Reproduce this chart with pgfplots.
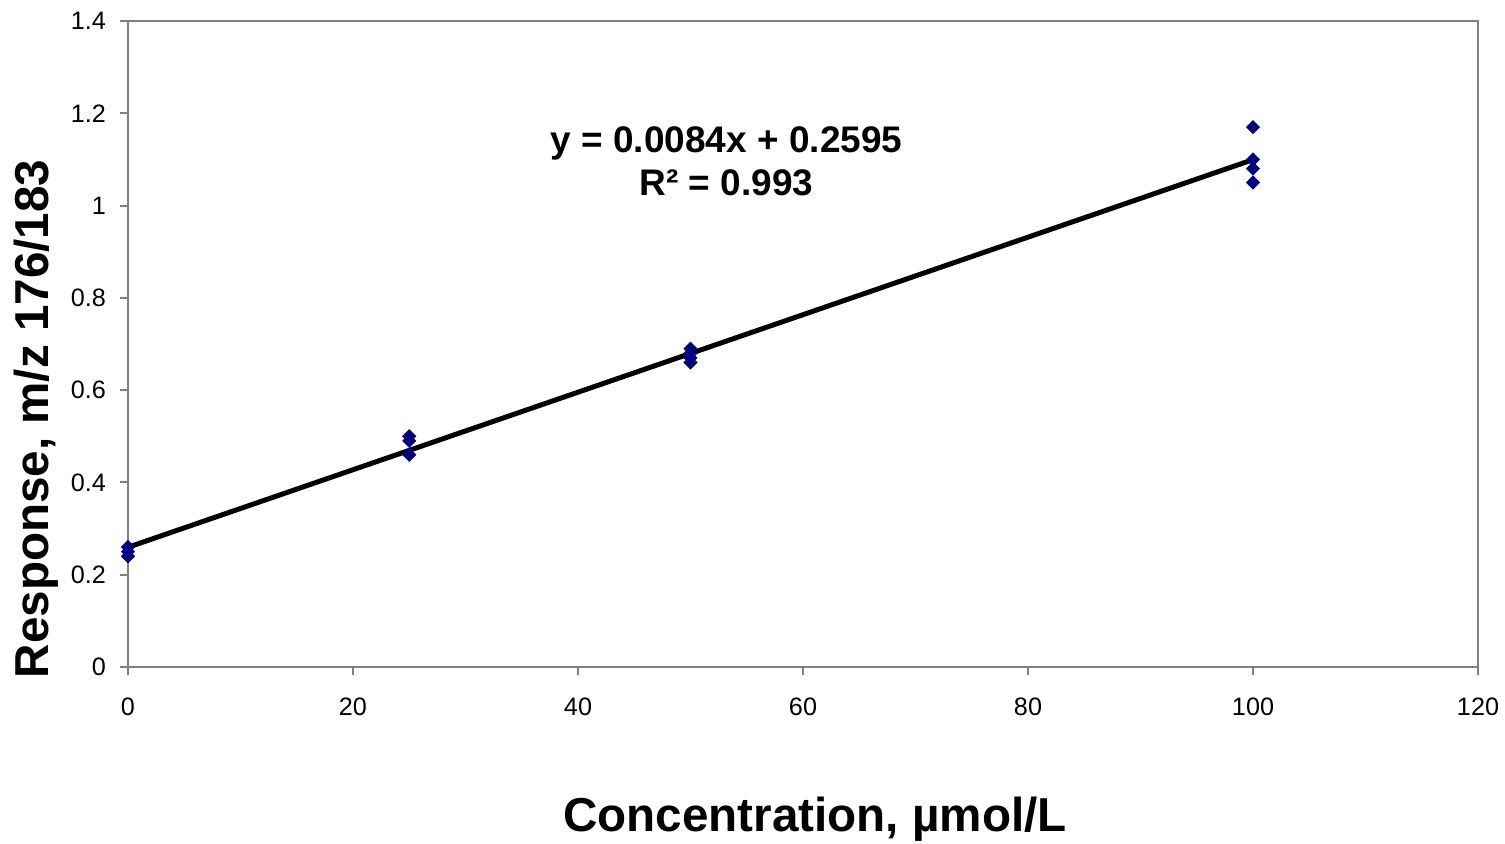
\documentclass[border=0pt]{standalone}
\usepackage{pgfplots}
\pgfplotsset{compat=1.18}
\usepackage{fontspec}
\setmainfont{Liberation Sans}
\definecolor{navyd}{RGB}{0,0,128}
\definecolor{axgray}{RGB}{128,128,128}
\begin{document}
\begin{tikzpicture}
\path[use as bounding box] (-64bp,-88.5bp) rectangle (688.5bp,333.5bp);
\begin{axis}[
  at={(0,0)}, anchor=south west,
  scale only axis, width=675bp, height=323bp,
  xmin=0, xmax=120, ymin=0, ymax=1.4,
  xtick={0,20,...,120}, ytick={0,0.2,...,1.4},
  yticklabels={0,0.2,0.4,0.6,0.8,1,1.2,1.4},
  xticklabels={0,20,40,60,80,100,120},
  tick align=outside, major tick length=4bp,
  xtick pos=bottom, ytick pos=left,
  axis line style={axgray, line width=1bp},
  tick style={axgray, line width=1bp},
  ticklabel style={font=\fontsize{12.6bp}{15bp}\selectfont},
  xticklabel style={yshift=-8bp},
  yticklabel style={xshift=-3.5bp},
  clip=false,
]
\addplot[black, line width=2.5bp, no marks] coordinates {(0,0.2595) (100,1.0995)};
\addplot[only marks, mark=square*, mark size=2.3bp, mark options={rotate=45}, color=navyd] coordinates {
(0,0.26) (0,0.25) (0,0.24)
(25,0.50) (25,0.49) (25,0.46)
(50,0.69) (50,0.68) (50,0.67) (50,0.66)
(100,1.17) (100,1.10) (100,1.08) (100,1.05)
};
\node[align=center, font=\fontsize{18.5bp}{21.5bp}\selectfont\bfseries] at (axis cs:53.2,1.095) {y = 0.0084x + 0.2595\\R² = 0.993};
\end{axis}
\node[rotate=90, font=\fontsize{23.8bp}{28bp}\selectfont\bfseries] at (-46bp,124bp) {Response, m/z 176/183};
\node[font=\fontsize{23.8bp}{28bp}\selectfont\bfseries] at (343.5bp,-76bp) {Concentration, µmol/L};
\end{tikzpicture}
\end{document}
